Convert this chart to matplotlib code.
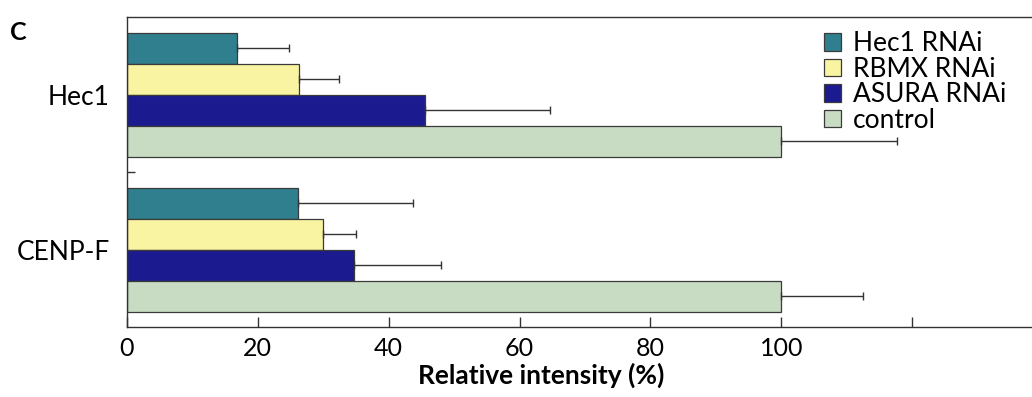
import numpy as np
import matplotlib.pyplot as plt

plt.rcParams['font.family'] = ['Lato', 'DejaVu Sans']

categories = ['Hec1', 'CENP-F']
series = ['Hec1 RNAi', 'RBMX RNAi', 'ASURA RNAi', 'control']
colors = ['#2f7f8e', '#f9f4a2', '#1b1a8e', '#c7dcc3']

# values per series, ordered as categories
means = [
    [16.8, 26.1],
    [26.3, 29.9],
    [45.5, 34.7],
    [100.0, 100.0],
]
errs = [
    [7.9, 17.6],
    [6.1, 5.1],
    [19.2, 13.3],
    [17.6, 12.5],
]

xticks = [0, 20, 40, 60, 80, 100, 120]
xticklabels = ['0', '20', '40', '60', '80', '100', '']

fig = plt.figure(figsize=(10.32, 3.97), dpi=100)
ax = fig.add_axes([0.123, 0.176, 0.877, 0.781])

ypos = np.arange(len(categories))
h = 0.2
for i, (name, c) in enumerate(zip(series, colors)):
    y = ypos - 0.3 + i * h
    ax.barh(y, means[i], height=h, color=c, edgecolor='#3a3a3a', linewidth=0.9, label=name)
    ax.errorbar(means[i], y, xerr=[np.zeros(len(categories)), errs[i]], fmt='none',
                ecolor='#333333', elinewidth=1.0, capsize=3, capthick=1.0)

ax.set_ylim(1.5, -0.5)
ax.set_xlim(0, 138.3)
ax.set_yticks(ypos)
ax.set_yticklabels(categories, fontsize=19)
ax.set_yticks([0.5], minor=True)
ax.tick_params(axis='y', which='major', length=0, pad=12.5)
ax.tick_params(axis='y', which='minor', direction='in', length=6, width=1, color='#333333')
ax.set_xticks(xticks)
ax.set_xticklabels(xticklabels, fontsize=18)
ax.tick_params(axis='x', direction='in', length=7, width=1, color='#333333', pad=7)
ax.set_xlabel('Relative intensity (%)', fontsize=19, fontweight='bold')
ax.xaxis.set_label_coords(0.458, -0.115)

for s in ['left', 'bottom', 'top']:
    ax.spines[s].set_color('#333333')
    ax.spines[s].set_linewidth(1.0)
ax.spines['right'].set_visible(False)

ax.legend(loc='upper left', bbox_to_anchor=(0.786, 0.955), bbox_transform=fig.transFigure,
          frameon=False, fontsize=19, handlelength=0.65, handleheight=0.65,
          handletextpad=0.45, labelspacing=0.02, borderpad=0)

fig.text(0.01, 0.9, 'C', fontsize=18, fontweight='bold')

fig.savefig('out.png', dpi=100)
